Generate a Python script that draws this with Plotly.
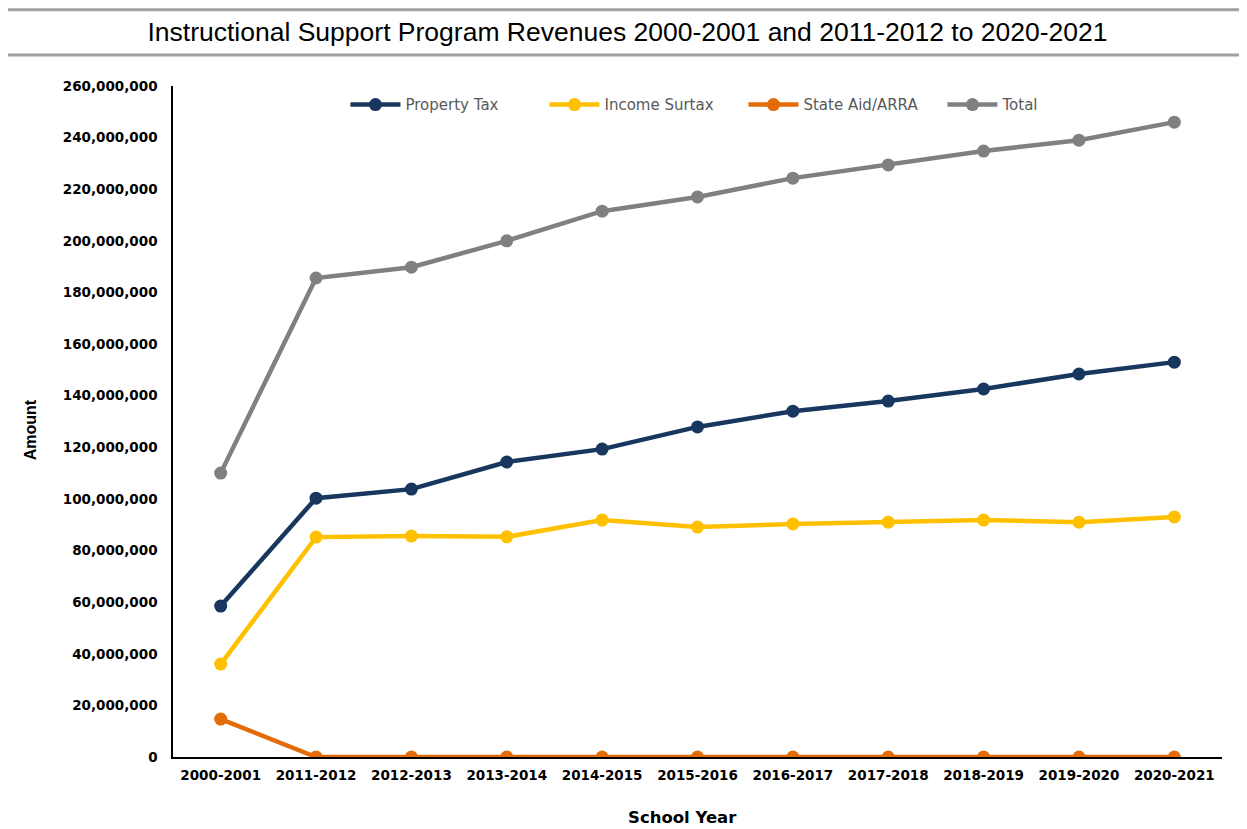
import plotly.graph_objects as go

# School years on the x axis
years = ["2000-2001", "2011-2012", "2012-2013", "2013-2014", "2014-2015", "2015-2016",
         "2016-2017", "2017-2018", "2018-2019", "2019-2020", "2020-2021"]

# Revenue amounts
property_tax = [58500000, 100300000, 103800000, 114300000, 119300000, 127900000,
                134000000, 137900000, 142600000, 148400000, 153000000]
income_surtax = [36000000, 85200000, 85600000, 85300000, 91800000, 89100000,
                 90300000, 91000000, 91800000, 91000000, 93000000]
state_aid = [14700000, 0, 0, 0, 0, 0, 0, 0, 0, 0, 0]
total = [110000000, 185600000, 189800000, 200000000, 211500000, 217000000,
         224300000, 229400000, 234800000, 239000000, 246000000]

series = [
    ("Property Tax", property_tax, "#17375e"),
    ("Income Surtax", income_surtax, "#ffc000"),
    ("State Aid/ARRA", state_aid, "#e36c09"),
    ("Total", total, "#808080"),
]

fig = go.Figure()
for name, vals, color in series:
    fig.add_trace(go.Scatter(
        x=years, y=vals, name=name, mode="lines+markers",
        line=dict(color=color, width=4.5),
        marker=dict(color=color, size=13),
    ))

# page body has an 8px margin, so the figure is 8px smaller than the window
fig.update_layout(
    width=1239, height=821,
    paper_bgcolor="white", plot_bgcolor="white",
    margin=dict(l=165, r=25, t=78, b=72),
    title=dict(
        text="Instructional Support Program Revenues 2000-2001 and 2011-2012 to 2020-2021",
        x=0.5, xanchor="center", y=0.9708, yanchor="middle",
        font=dict(family="Liberation Sans, Arial", size=26.5, color="black"),
    ),
    font=dict(family="DejaVu Sans", color="black"),
    legend=dict(
        orientation="h", x=0.1644, xanchor="left", y=0.972, yanchor="middle",
        font=dict(size=15, color="#595959", family="DejaVu Sans"), itemwidth=50,
        entrywidth=134, bgcolor="rgba(0,0,0,0)",
    ),
    showlegend=True,
)

fig.update_xaxes(
    type="category", range=[-0.5, 10.5], automargin=False,
    showline=True, linecolor="black", linewidth=1.5,
    showgrid=False, ticks="", ticklabelstandoff=5,
    tickfont=dict(size=13.5, family="DejaVu Sans", weight="bold"),
)
fig.update_yaxes(
    range=[0, 260000000], dtick=20000000, tickformat=",d", automargin=False,
    showline=True, linecolor="black", linewidth=1.5,
    showgrid=False, zeroline=False, ticks="", ticklabelstandoff=11,
    tickfont=dict(size=13.5, family="DejaVu Sans", weight="bold"),
)

# Axis titles
fig.add_annotation(text="School Year", xref="paper", yref="paper",
                   x=0.486, y=-0.0909, xanchor="center", yanchor="middle",
                   showarrow=False,
                   font=dict(size=16.5, family="DejaVu Sans", weight="bold"))
fig.add_annotation(text="Amount", xref="paper", yref="paper",
                   x=-0.1363, y=0.487, xanchor="center", yanchor="middle",
                   showarrow=False, textangle=-90,
                   font=dict(size=16, family="Liberation Sans, Arial", weight="bold"))

# Gray rules above and below the title
for yy in [1.1135, 1.0462]:
    fig.add_shape(type="line", xref="paper", yref="paper",
                  x0=-0.163, x1=1.024, y0=yy, y1=yy,
                  line=dict(color="#a0a0a0", width=3))

fig.write_html("out.html")
